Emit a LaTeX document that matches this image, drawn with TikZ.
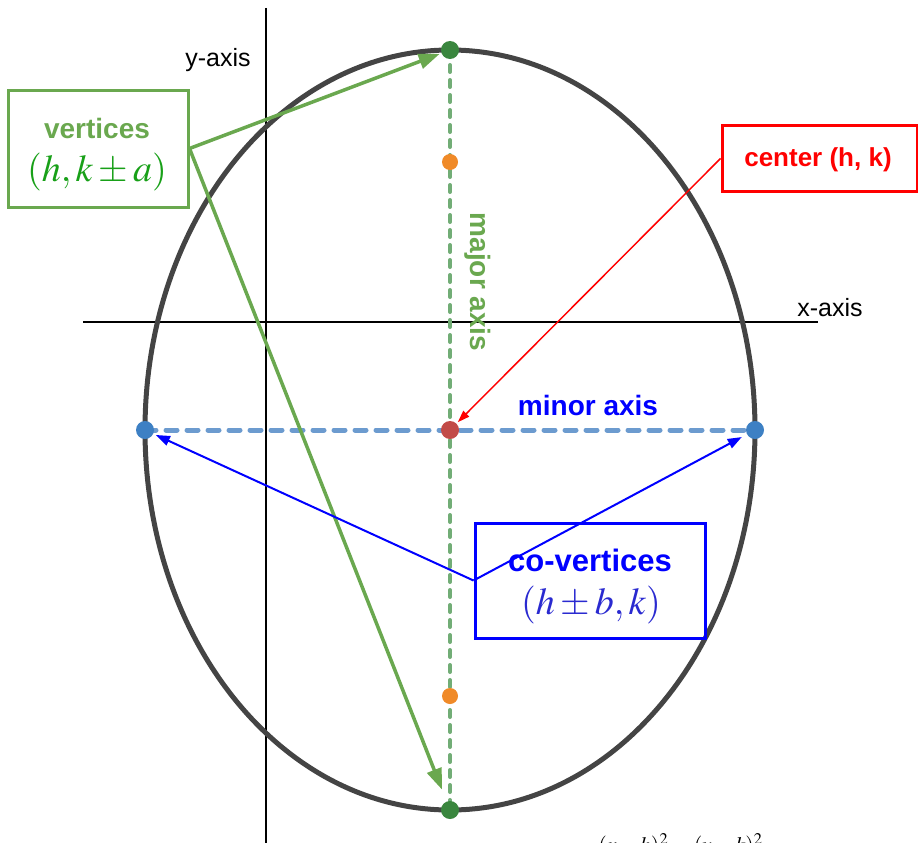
\documentclass[tikz,border=0pt]{standalone}
\usepackage{mathptmx}
\usepackage[no-math]{fontspec}
\setmainfont{Liberation Sans}
\usetikzlibrary{arrows.meta}

\definecolor{ellgray}{HTML}{444444}
\definecolor{vgreen}{HTML}{6AA84F}
\definecolor{mathgreen}{HTML}{18A018}
\definecolor{dashgreen}{HTML}{72AD76}
\definecolor{dotgreen}{HTML}{3A863E}
\definecolor{dashblue}{HTML}{6C9BCF}
\definecolor{dotblue}{HTML}{3D80C4}
\definecolor{dotred}{HTML}{C24B48}
\definecolor{dotorange}{HTML}{F08A28}
\definecolor{mathblue}{HTML}{2A2AD0}

\begin{document}
\begin{tikzpicture}[x=1pt, y=-1pt,
    ptdot/.style={circle, inner sep=0pt, minimum size=#1},
    axislbl/.style={font=\fontsize{25}{30}\selectfont, inner sep=0pt},
    boldlbl/.style={font=\fontsize{#1}{#1}\selectfont\bfseries, inner sep=0pt},
    mathlbl/.style={font=\fontsize{38}{40}\selectfont, inner sep=0pt},
    infobox/.style={draw, line width=3pt, inner sep=0pt},
  ]
  \useasboundingbox (0,0) rectangle (918,843);

  % axes
  \draw[black, line width=1.8pt] (83,322) -- (818,322);
  \draw[black, line width=1.8pt] (266,8) -- (266,843);
  \node[axislbl] (ylbl) at (218,60) {y-axis};
  \node[axislbl] (xlbl) at (830,308) {x-axis};

  % ellipse
  \coordinate (ctr) at (450,430);
  \coordinate (vt) at (450,50);
  \coordinate (vb) at (450,810);
  \coordinate (cl) at (145,430);
  \coordinate (cr) at (755,430);
  \draw[ellgray, line width=5pt] (ctr) ellipse [x radius=305, y radius=380];

  % major and minor axis
  \draw[dashgreen, line width=4pt, line cap=round, dash pattern=on 7pt off 8pt] (vt) -- (vb);
  \draw[dashblue, line width=5pt, line cap=round, dash pattern=on 11pt off 10pt] (cl) -- (cr);

  \node[ptdot=18pt, fill=dotgreen] (vtdot) at (vt) {};
  \node[ptdot=18pt, fill=dotgreen] (vbdot) at (vb) {};
  \node[ptdot=16pt, fill=dotorange] (focus1) at (450,162) {};
  \node[ptdot=16pt, fill=dotorange] (focus2) at (450,696) {};
  \node[ptdot=18pt, fill=dotred] (ctrdot) at (ctr) {};
  \node[ptdot=18pt, fill=dotblue] (cldot) at (cl) {};
  \node[ptdot=18pt, fill=dotblue] (crdot) at (cr) {};

  \node[boldlbl=28, text=vgreen, rotate=-90] (majlbl) at (478,282) {major axis};
  \node[boldlbl=28, text=blue] (minlbl) at (588,405) {minor axis};

  % vertices
  \node[infobox, draw=vgreen, minimum width=180pt, minimum height=117pt] (vertbox) at (98,148.5) {};
  \node[boldlbl=28, text=vgreen] (verttitle) at (97,128) {vertices};
  \node[mathlbl, text=mathgreen] (vertmath) at (97,172) {$(h,k\pm a)$};
  \draw[vgreen, line width=3.5pt, -{Triangle[length=21pt, width=15pt]}, shorten >=11pt] (vertbox.east) -- (vt);
  \draw[vgreen, line width=3.5pt, -{Triangle[length=21pt, width=15pt]}, shorten >=22pt] (vertbox.east) -- (vb);

  % center
  \node[infobox, draw=red, minimum width=195pt, minimum height=66pt] (ctrbox) at (819.5,158.5) {};
  \node[boldlbl=26, text=red] (ctrtitle) at (818,160) {center (h, k)};
  \draw[red, line width=1.5pt, -{Triangle[length=12pt, width=8pt]}, shorten >=11pt] (ctrbox.west) -- (ctr);

  % co-vertices
  \node[infobox, draw=blue, minimum width=230pt, minimum height=115pt] (covbox) at (590,580.5) {};
  \node[boldlbl=31, text=blue] (covtitle) at (590,560) {co-vertices};
  \node[mathlbl, text=mathblue] (covmath) at (591,605) {$(h\pm b,k)$};
  \draw[blue, line width=2pt, -{Triangle[length=14pt, width=10pt]}, shorten >=12pt] (covbox.west) -- (cl);
  \draw[blue, line width=2pt, -{Triangle[length=14pt, width=10pt]}, shorten >=15pt] (covbox.west) -- (cr);

  % equation, cut off by the lower edge
  \begin{scope}
    \clip (0,0) rectangle (918,843);
    \node[anchor=north west, inner sep=0pt, font=\fontsize{22}{26}\selectfont] (eqn) at (597,833)
      {$\displaystyle\frac{(x-h)^2}{b^2}+\frac{(y-k)^2}{a^2}=1$};
  \end{scope}
\end{tikzpicture}
\end{document}
